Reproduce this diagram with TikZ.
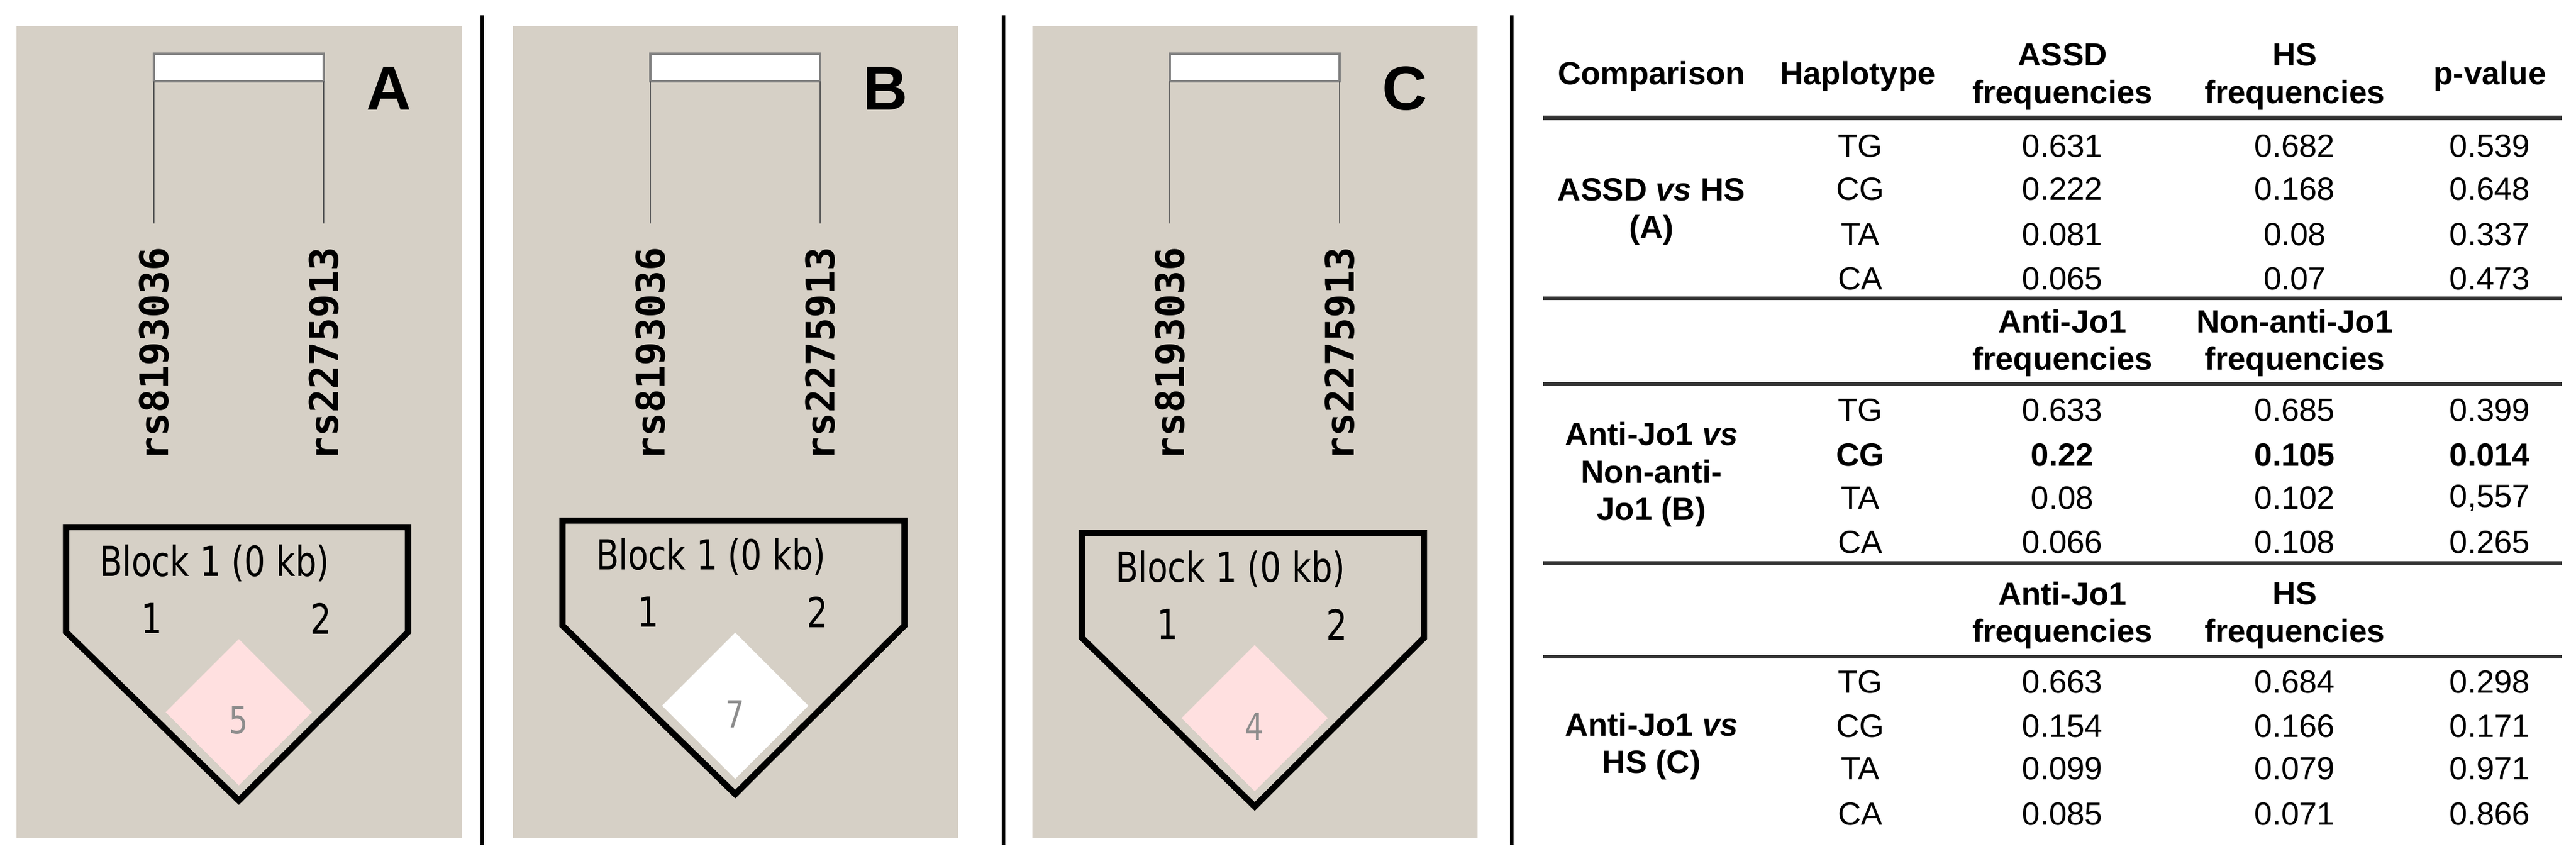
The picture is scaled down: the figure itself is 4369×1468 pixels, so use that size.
\documentclass[tikz,border=0pt]{standalone}
\usepackage{fontspec}
\setmainfont{Liberation Sans}
\newfontfamily\monofont{DejaVu Sans Mono}
\newfontfamily\ldfont{DejaVu Sans}
\definecolor{haplogray}{RGB}{214,208,198}
\definecolor{ldpink}{RGB}{255,224,224}
\definecolor{ldtext}{RGB}{140,140,140}

\begin{document}
\begin{tikzpicture}[x=0.01cm, y=-0.01cm,
    snp/.style={font=\monofont\bfseries\fontsize{19}{19}\selectfont, rotate=90},
    panellabel/.style={font=\bfseries\fontsize{30}{30}\selectfont},
    blocktext/.style={font=\ldfont\fontsize{20}{20}\selectfont, xscale=0.8},
    cell/.style={font=\fontsize{15.5}{18}\selectfont, align=center},
    head/.style={cell, font=\bfseries\fontsize{15.5}{18}\selectfont},
    rule/.style={line width=2.2pt, black!80}
]
\useasboundingbox (0,0) rectangle (4369,1468);

% haploview panels
\foreach \pl/\py/\lab/\val/\dcol in {28/894/A/5/ldpink, 870/883/B/7/white, 1751/904/C/4/ldpink}{
  \fill[haplogray] (\pl,44) rectangle ++(755,1377);
  \draw[gray, fill=white, line width=1pt] (\pl+233,91) rectangle (\pl+521,138);
  \draw[gray!70!black, line width=0.5pt] (\pl+233,138) -- (\pl+233,379);
  \draw[gray!70!black, line width=0.5pt] (\pl+521,138) -- (\pl+521,379);
  \node[snp] (snpa\lab) at (\pl+233,600) {rs8193036};
  \node[snp] (snpb\lab) at (\pl+521,600) {rs2275913};
  \node[panellabel] (lab\lab) at (\pl+632,150) {\lab};
  \fill[\dcol] (\pl+377,\py+190) -- (\pl+501,\py+314) -- (\pl+377,\py+438) -- (\pl+253,\py+314) -- cycle;
  \node[font=\ldfont\fontsize{18}{18}\selectfont, text=ldtext, xscale=0.8] (ld\lab) at (\pl+377,\py+328) {\val};
  \draw[line width=3pt, line join=miter] (\pl+84,\py) -- (\pl+664,\py) -- (\pl+664,\py+178)
    -- (\pl+377,\py+464) -- (\pl+84,\py+178) -- cycle;
  \node[blocktext] (blk\lab) at (\pl+336,\py+61) {Block 1 (0 kb)};
  \node[blocktext] (one\lab) at (\pl+229,\py+155) {1};
  \node[blocktext] (two\lab) at (\pl+516,\py+155) {2};
}

% dividers
\draw[line width=1.5pt] (818,26) -- (818,1433);
\draw[line width=1.5pt] (1702,26) -- (1702,1433);
\draw[line width=1.5pt] (2564,26) -- (2564,1433);

% table
\node[head] (hcomp) at (2801,129) {Comparison};
\node[head] (hhap) at (3151,129) {Haplotype};
\node[head] (hassd) at (3498,130) {ASSD\\frequencies};
\node[head] (hhs) at (3892,130) {HS\\frequencies};
\node[head] (hp) at (4223,129) {p-value};
\draw[rule] (2617,200) -- (4345,200);

\node[head] (ga) at (2801,359) {ASSD \textit{vs} HS\\(A)};
\foreach \y/\h/\a/\b/\p in {248/TG/0.631/0.682/0.539, 321/CG/0.222/0.168/0.648,
    398/TA/0.081/0.08/0.337, 473/CA/0.065/0.07/0.473}{
  \node[cell] (ha\h) at (3155,\y) {\h};
  \node[cell] (fa\h) at (3498,\y) {\a};
  \node[cell] (fb\h) at (3892,\y) {\b};
  \node[cell] (pv\h) at (4223,\y) {\p};
}
\draw[rule, line width=1.5pt] (2617,506) -- (4345,506);

\node[head] (h2a) at (3498,582) {Anti-Jo1\\frequencies};
\node[head] (h2b) at (3892,582) {Non-anti-Jo1\\frequencies};
\draw[rule, line width=1.5pt] (2617,651) -- (4345,651);

\node[head] (gb) at (2801,805) {Anti-Jo1 \textit{vs}\\Non-anti-\\Jo1 (B)};
\foreach \y/\h/\a/\b/\p in {696/TG/0.633/0.685/0.399, 845/TA/0.08/0.102/{0,557}, 920/CA/0.066/0.108/0.265}{
  \node[cell] (hb\h) at (3155,\y) {\h};
  \node[cell] (ga\h) at (3498,\y) {\a};
  \node[cell] (gb\h) at (3892,\y) {\b};
  \node[cell] (qv\h) at (4223,\y) {\p};
}
\node[head] (hbCG) at (3155,772) {CG};
\node[head] (gaCG) at (3498,772) {0.22};
\node[head] (gbCG) at (3892,772) {0.105};
\node[head] (qvCG) at (4223,772) {0.014};
\draw[rule, line width=1.5pt] (2617,955) -- (4345,955);

\node[head] (h3a) at (3498,1044) {Anti-Jo1\\frequencies};
\node[head] (h3b) at (3892,1044) {HS\\frequencies};
\draw[rule, line width=1.5pt] (2617,1114) -- (4345,1114);

\node[head] (gc) at (2801,1266) {Anti-Jo1 \textit{vs}\\HS (C)};
\foreach \y/\h/\a/\b/\p in {1157/TG/0.663/0.684/0.298, 1232/CG/0.154/0.166/0.171,
    1304/TA/0.099/0.079/0.971, 1381/CA/0.085/0.071/0.866}{
  \node[cell] (hc\h) at (3155,\y) {\h};
  \node[cell] (ka\h) at (3498,\y) {\a};
  \node[cell] (kb\h) at (3892,\y) {\b};
  \node[cell] (rv\h) at (4223,\y) {\p};
}

\end{tikzpicture}
\end{document}
